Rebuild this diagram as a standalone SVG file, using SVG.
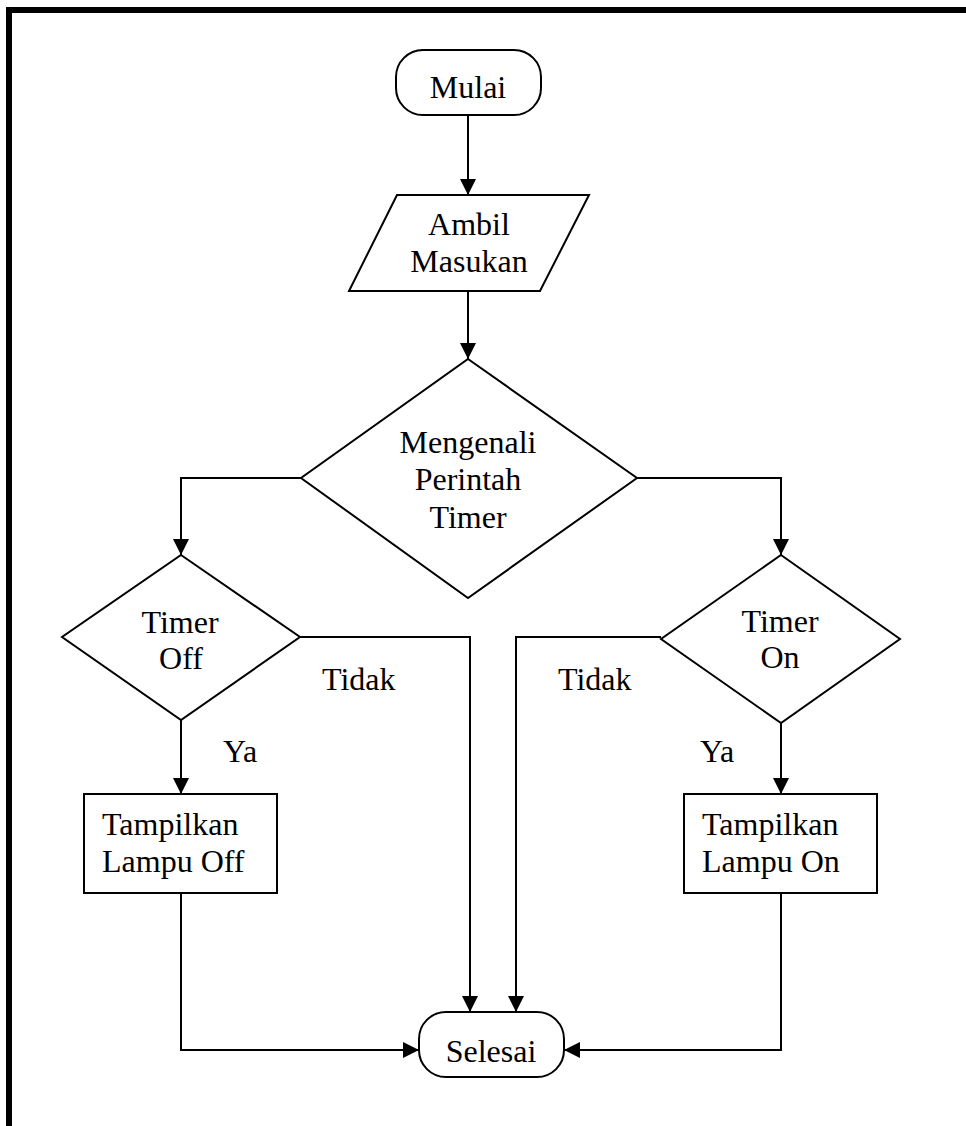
<svg xmlns="http://www.w3.org/2000/svg" width="966" height="1126" viewBox="0 0 966 1126">
<defs>
<marker id="ah" markerWidth="16" markerHeight="16" refX="16" refY="8" orient="auto" markerUnits="userSpaceOnUse">
<path d="M0,0 L16,8 L0,16 Z" fill="#000"/>
</marker>
<style>
.s{fill:#fff;stroke:#000;stroke-width:2}
.c{fill:none;stroke:#000;stroke-width:2;marker-end:url(#ah)}
.t{font-family:"Liberation Serif","Times New Roman",serif;font-size:32px;fill:#000}
.m{text-anchor:middle}
</style>
</defs>
<rect x="9" y="10" width="1000" height="1200" fill="none" stroke="#000" stroke-width="6"/>
<g id="connectors">
<path class="c" d="M468,115 V195"/>
<path class="c" d="M468,291 V359"/>
<path class="c" d="M301,478 H181 V555"/>
<path class="c" d="M637,478 H781 V555"/>
<path class="c" d="M181,720 V794"/>
<path class="c" d="M781,723 V794"/>
<path class="c" d="M300,637 H470 V1012"/>
<path class="c" d="M661,637 H516 V1012"/>
<path class="c" d="M181,893 V1050 H419"/>
<path class="c" d="M781,893 V1050 H564"/>
<text class="t" x="322" y="690">Tidak</text>
<text class="t" x="558" y="690">Tidak</text>
<text class="t" x="223" y="762">Ya</text>
<text class="t" x="700" y="762">Ya</text>
</g>
<g id="mulai">
<rect class="s" x="396" y="50" width="145" height="65" rx="27" ry="27"/>
<text class="t m" x="468" y="98">Mulai</text>
</g>
<g id="ambil">
<path class="s" d="M397,195 L589,195 L540,291 L349,291 Z"/>
<text class="t m" x="469" y="235">Ambil</text>
<text class="t m" x="469" y="272">Masukan</text>
</g>
<g id="mengenali">
<path class="s" d="M468,359 L637,478 L468,598 L301,478 Z"/>
<text class="t m" x="468" y="453">Mengenali</text>
<text class="t m" x="468" y="490">Perintah</text>
<text class="t m" x="468" y="528">Timer</text>
</g>
<g id="timer-off">
<path class="s" d="M181,555 L300,637 L181,720 L62,637 Z"/>
<text class="t m" x="180" y="633">Timer</text>
<text class="t m" x="181" y="669">Off</text>
</g>
<g id="timer-on">
<path class="s" d="M781,555 L900,639 L781,723 L661,639 Z"/>
<text class="t m" x="780" y="632">Timer</text>
<text class="t m" x="780" y="668">On</text>
</g>
<g id="lampu-off">
<rect class="s" x="84" y="794" width="193" height="99"/>
<text class="t" x="102" y="835">Tampilkan</text>
<text class="t" x="102" y="872">Lampu Off</text>
</g>
<g id="lampu-on">
<rect class="s" x="684" y="794" width="193" height="99"/>
<text class="t" x="702" y="835">Tampilkan</text>
<text class="t" x="702" y="872">Lampu On</text>
</g>
<g id="selesai">
<rect class="s" x="419" y="1012" width="145" height="65" rx="27" ry="27"/>
<text class="t m" x="491" y="1062">Selesai</text>
</g>
</svg>
